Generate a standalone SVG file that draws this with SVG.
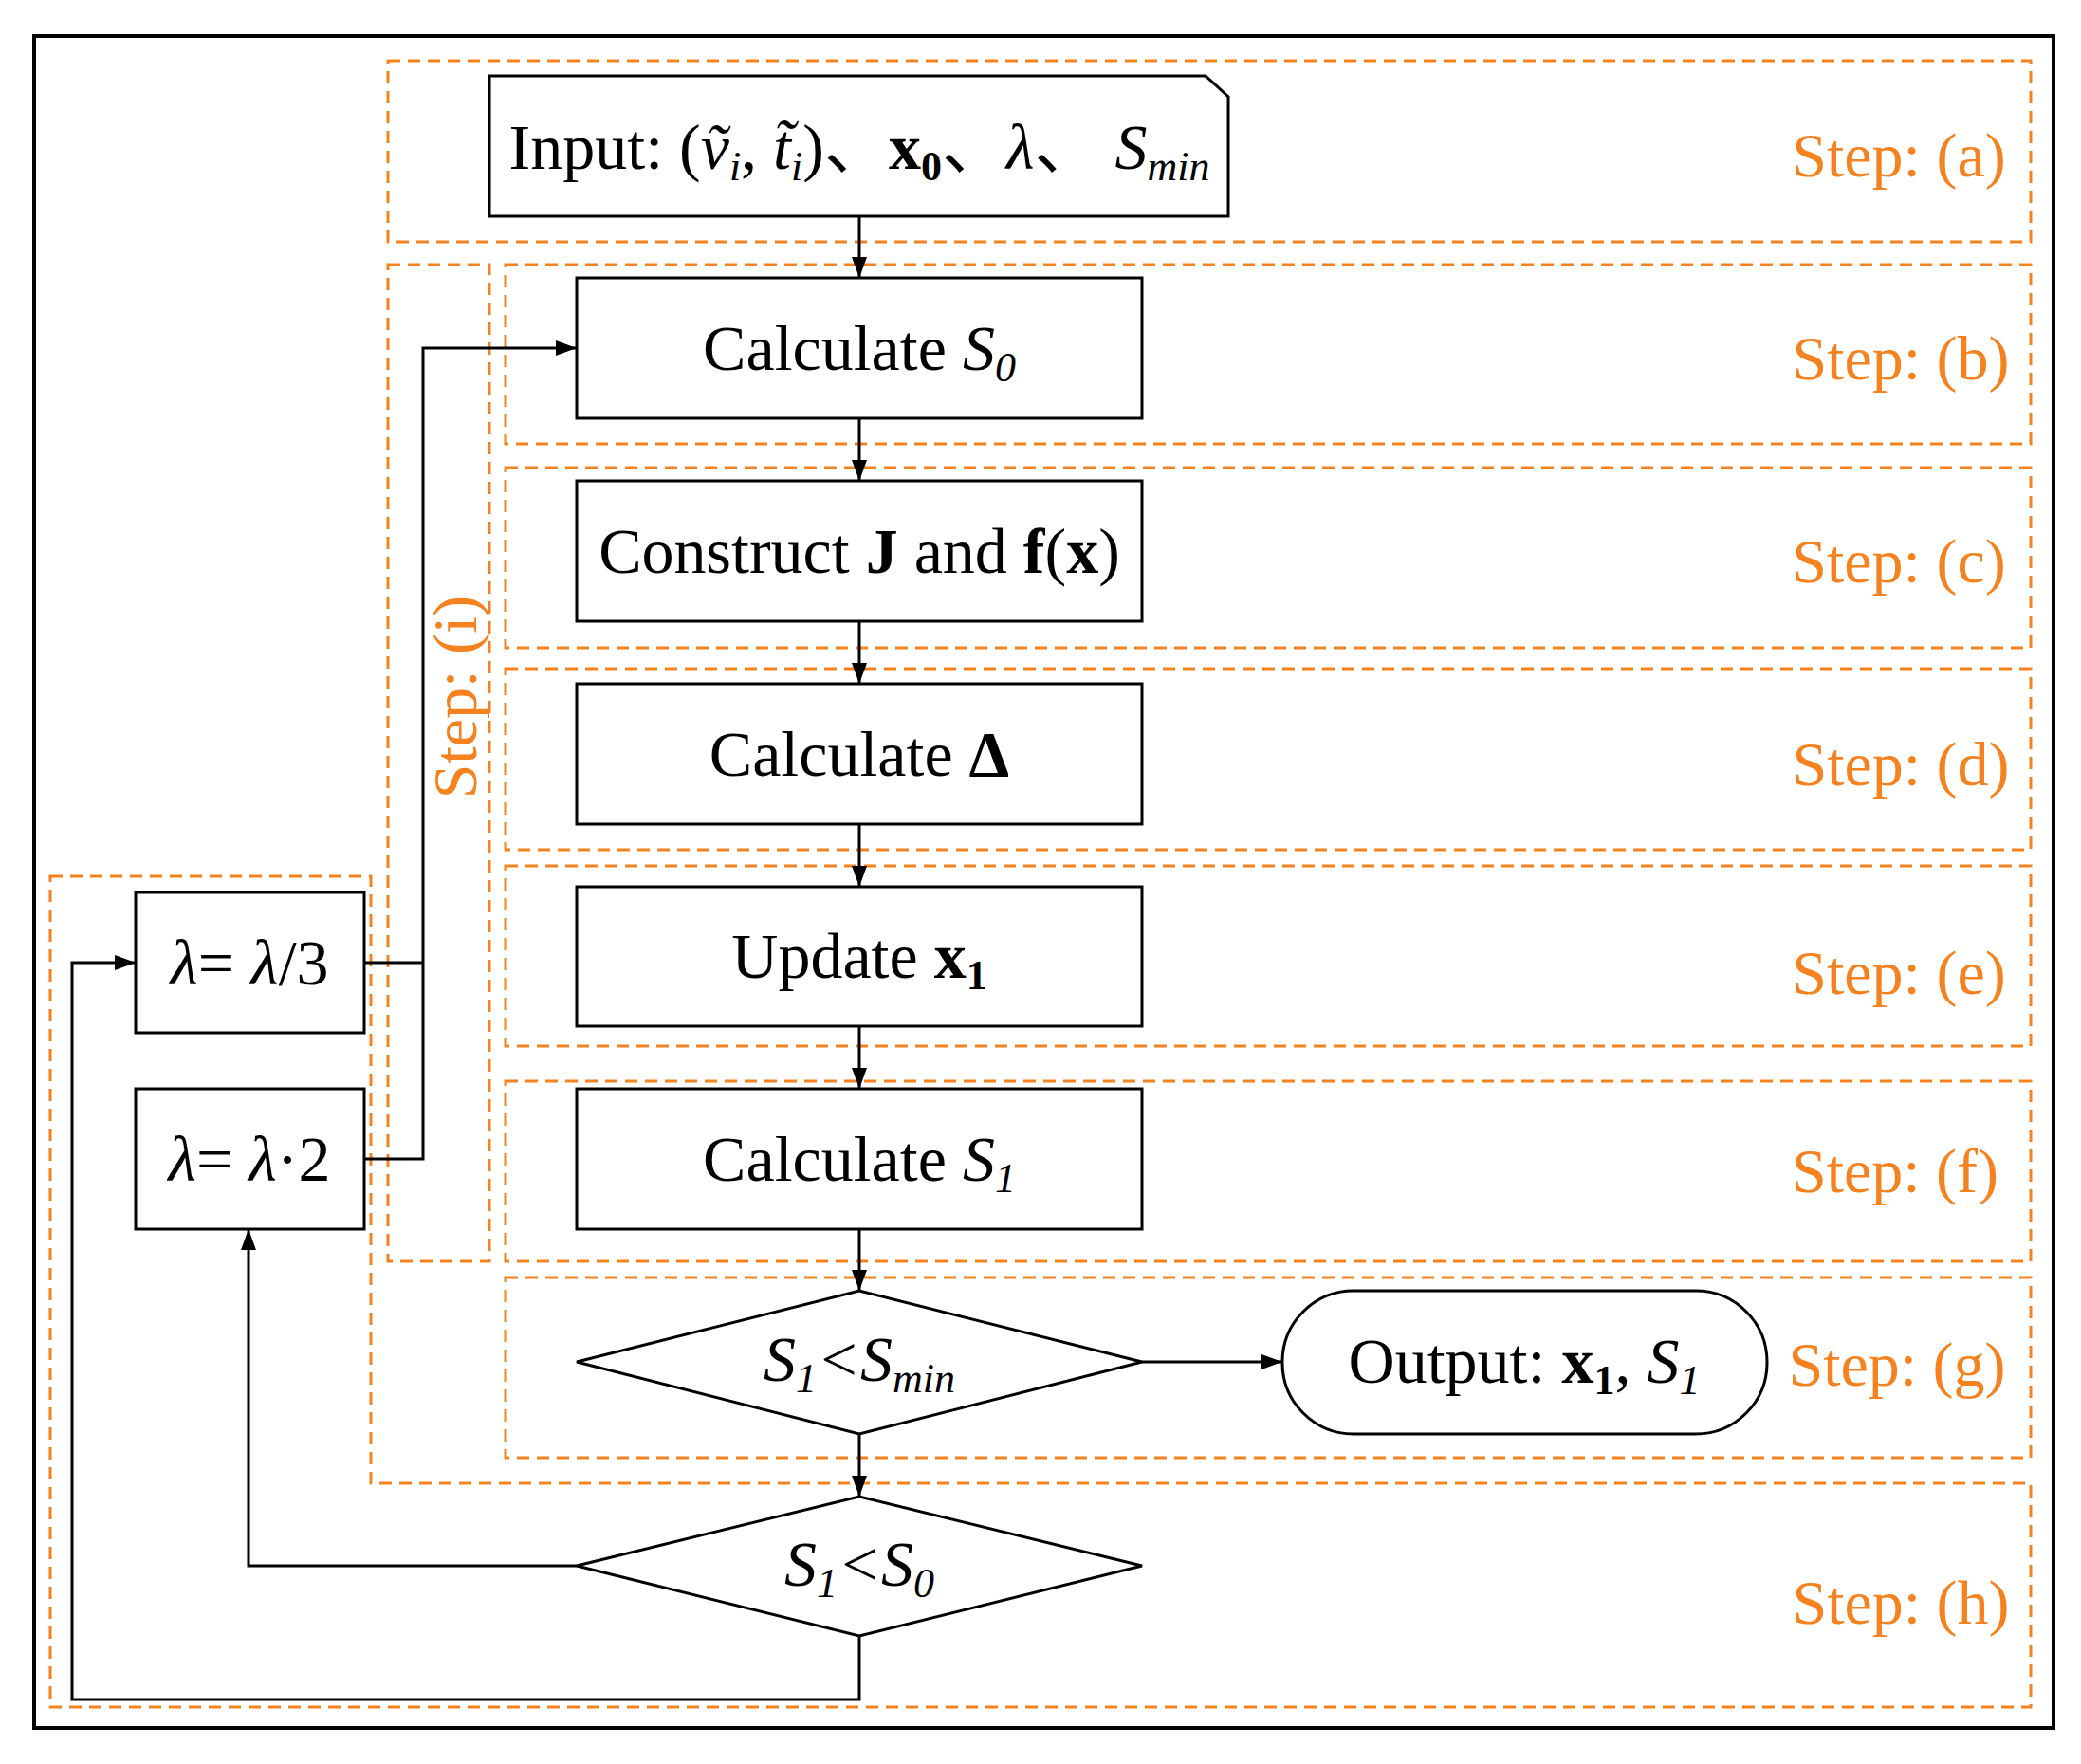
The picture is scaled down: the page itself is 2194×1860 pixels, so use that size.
<svg xmlns="http://www.w3.org/2000/svg" width="2194" height="1860" viewBox="0 0 2194 1860">
<style>
.dash{fill:none;stroke:#F5821F;stroke-width:3;stroke-dasharray:13 8}
.box{fill:#fff;stroke:#000;stroke-width:3}
.ln{fill:none;stroke:#000;stroke-width:3}
.t{font-family:"Liberation Serif","Noto Sans CJK SC",serif;font-size:68px;fill:#000;text-anchor:middle}
.s{font-family:"Liberation Serif",serif;font-size:66px;fill:#F5821F;text-anchor:middle}
.i{font-style:italic}
.b{font-weight:bold}
.sub{font-size:44px}
</style>
<defs>
<marker id="ar" markerWidth="22" markerHeight="16" refX="21" refY="8" orient="auto" markerUnits="userSpaceOnUse" viewBox="0 0 22 16"><path d="M0,0 L22,8 L0,16 z" fill="#000"/></marker>
</defs>
<rect width="2194" height="1860" fill="#fff"/>
<rect x="36" y="38" width="2129" height="1784" fill="none" stroke="#000" stroke-width="4"/>
<g id="regions">
<rect class="dash" x="409" y="64" width="1732" height="191"/>
<rect class="dash" x="533" y="279" width="1608" height="189"/>
<rect class="dash" x="409" y="279" width="107" height="1051"/>
<rect class="dash" x="533" y="493" width="1608" height="190"/>
<rect class="dash" x="533" y="705" width="1608" height="191"/>
<rect class="dash" x="533" y="913" width="1608" height="190"/>
<rect class="dash" x="533" y="1140" width="1608" height="190"/>
<rect class="dash" x="533" y="1347" width="1608" height="190"/>
<path class="dash" d="M53,924 H391 V1564 H2141 V1800 H53 Z"/>
<text class="s" x="2002" y="186">Step: (a)</text>
<text class="s" x="2004" y="400">Step: (b)</text>
<text class="s" x="2002" y="614">Step: (c)</text>
<text class="s" x="2004" y="828">Step: (d)</text>
<text class="s" x="2002" y="1048">Step: (e)</text>
<text class="s" x="1998" y="1257">Step: (f)</text>
<text class="s" x="2000" y="1461">Step: (g)</text>
<text class="s" x="2004" y="1712">Step: (h)</text>
<text class="s" transform="translate(502,735) rotate(-90)">Step: (i)</text>
</g>
<g id="connectors">
<line class="ln" x1="906" y1="228" x2="906" y2="292" marker-end="url(#ar)"/>
<line class="ln" x1="906" y1="441" x2="906" y2="506" marker-end="url(#ar)"/>
<line class="ln" x1="906" y1="655" x2="906" y2="720" marker-end="url(#ar)"/>
<line class="ln" x1="906" y1="869" x2="906" y2="934" marker-end="url(#ar)"/>
<line class="ln" x1="906" y1="1082" x2="906" y2="1147" marker-end="url(#ar)"/>
<line class="ln" x1="906" y1="1296" x2="906" y2="1360" marker-end="url(#ar)"/>
<line class="ln" x1="906" y1="1512" x2="906" y2="1577" marker-end="url(#ar)"/>
<line class="ln" x1="1204" y1="1436" x2="1351" y2="1436" marker-end="url(#ar)"/>
<path class="ln" d="M384,1015 H446"/>
<path class="ln" d="M384,1222 H446 V367 H607" marker-end="url(#ar)"/>
<path class="ln" d="M608,1651 H262 V1297" marker-end="url(#ar)"/>
<path class="ln" d="M906,1725 V1792 H76 V1015 H142" marker-end="url(#ar)"/>
</g>
<g id="input"><path class="box" d="M516,80 H1271 L1295,102 V228 H516 Z"/>
<text class="t" x="906" y="178">Input: (<tspan class="i">ṽ</tspan><tspan class="i sub" dy="12">i</tspan><tspan dy="-12">, </tspan><tspan class="i">t̃</tspan><tspan class="i sub" dy="12">i</tspan><tspan dy="-12">)、</tspan><tspan class="b">x</tspan><tspan class="b sub" dy="12">0</tspan><tspan dy="-12">、</tspan><tspan class="i">λ</tspan><tspan>、 </tspan><tspan class="i">S</tspan><tspan class="i sub" dy="12">min</tspan></text></g>
<g id="calcS0"><rect class="box" x="608" y="293" width="596" height="148"/>
<text class="t" x="906" y="390">Calculate <tspan class="i">S</tspan><tspan class="i sub" dy="12">0</tspan></text></g>
<g id="construct"><rect class="box" x="608" y="507" width="596" height="148"/>
<text class="t" x="906" y="604">Construct <tspan class="b">J</tspan> and <tspan class="b">f</tspan>(<tspan class="b">x</tspan>)</text></g>
<g id="calcDelta"><rect class="box" x="608" y="721" width="596" height="148"/>
<text class="t" x="906" y="818">Calculate <tspan class="b">Δ</tspan></text></g>
<g id="update"><rect class="box" x="608" y="935" width="596" height="147"/>
<text class="t" x="906" y="1031">Update <tspan class="b">x</tspan><tspan class="b sub" dy="12">1</tspan></text></g>
<g id="calcS1"><rect class="box" x="608" y="1148" width="596" height="148"/>
<text class="t" x="906" y="1245">Calculate <tspan class="i">S</tspan><tspan class="i sub" dy="12">1</tspan></text></g>
<g id="dec1"><path class="box" d="M608,1436 L906,1361 L1204,1436 L906,1512 Z"/>
<text class="t i" x="906" y="1456">S<tspan class="sub" dy="12">1</tspan><tspan dy="-12">&lt;S</tspan><tspan class="sub" dy="12">min</tspan></text></g>
<g id="output"><rect class="box" x="1352" y="1361" width="511" height="151" rx="75" ry="75"/>
<text class="t" x="1607" y="1458">Output: <tspan class="b">x</tspan><tspan class="b sub" dy="12">1</tspan><tspan dy="-12">, </tspan><tspan class="i">S</tspan><tspan class="i sub" dy="12">1</tspan></text></g>
<g id="dec2"><path class="box" d="M608,1651 L906,1578 L1204,1651 L906,1725 Z"/>
<text class="t i" x="906" y="1672">S<tspan class="sub" dy="12">1</tspan><tspan dy="-12">&lt;S</tspan><tspan class="sub" dy="12">0</tspan></text></g>
<g id="lam3"><rect class="box" x="143" y="941" width="241" height="148"/>
<text class="t" x="263" y="1038"><tspan class="i">λ</tspan>= <tspan class="i">λ</tspan>/3</text></g>
<g id="lam2"><rect class="box" x="143" y="1148" width="241" height="148"/>
<text class="t" x="263" y="1245"><tspan class="i">λ</tspan>= <tspan class="i">λ</tspan>·2</text></g>
</svg>
